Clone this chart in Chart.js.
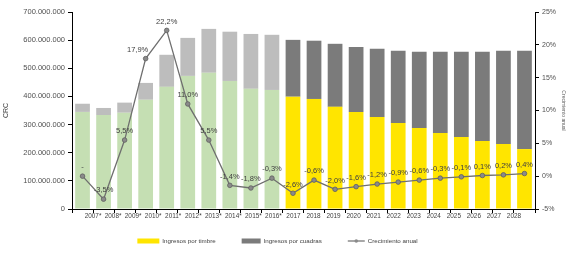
<!DOCTYPE html>
<html>
<head>
<meta charset="utf-8">
<script src="https://cdn.jsdelivr.net/npm/chart.js@4.4.0/dist/chart.umd.min.js"></script>
<style>
  html, body { margin: 0; padding: 0; background: #fff; }
  #wrap { width: 567px; height: 253px; }
</style>
</head>
<body>
<div id="wrap"><canvas id="chart"></canvas></div>
<script>
var years = ["2007*", "2008*", "2009*", "2010*", "2011*", "2012*", "2013*", "2014*", "2015*", "2016*",
             "2017", "2018", "2019", "2020", "2021", "2022", "2023", "2024", "2025", "2026", "2027", "2028"];
var timbre = [345000000, 334000000, 342000000, 388000000, 434000000, 473000000, 484000000, 455000000, 427000000, 423000000,
              399000000, 391000000, 363000000, 345000000, 327000000, 306000000, 288000000, 270000000, 256000000, 242000000, 231000000, 213000000];
var cuadras = [29000000, 25000000, 36000000, 60000000, 114000000, 135000000, 156000000, 175000000, 195000000, 196000000,
               202000000, 207000000, 224000000, 231000000, 242000000, 256000000, 271000000, 289000000, 303000000, 317000000, 331000000, 349000000];
var crecimiento = [0, -3.5, 5.5, 17.9, 22.2, 11.0, 5.5, -1.4, -1.8, -0.3, -2.6, -0.6, -2.0, -1.6, -1.2, -0.9, -0.6, -0.3, -0.1, 0.1, 0.2, 0.4];
var crecLabels = ["-", "-3,5%", "5,5%", "17,9%", "22,2%", "11,0%", "5,5%", "-1,4%", "-1,8%", "-0,3%",
                  "-2,6%", "-0,6%", "-2,0%", "-1,6%", "-1,2%", "-0,9%", "-0,6%", "-0,3%", "-0,1%", "0,1%", "0,2%", "0,4%"];

var font = "'Liberation Sans', Arial, sans-serif";

// historical years (with *) are drawn in green / light gray
var timbreColors = years.map(function(y) { return y.indexOf('*') > -1 ? '#c5dfb3' : '#ffe500'; });
var cuadrasColors = years.map(function(y) { return y.indexOf('*') > -1 ? '#bdbdbd' : '#7b7b7b'; });

var legendItems = [
    { text: 'Ingresos por timbre', color: '#ffe500', kind: 'box', w: 22 },
    { text: 'Ingresos por cuadras', color: '#7b7b7b', kind: 'box', w: 19 },
    { text: 'Crecimiento anual', color: '#6f6f6f', kind: 'line', w: 17 }
];

function miles(v) {
    return String(v).replace(/\B(?=(\d{3})+(?!\d))/g, '.');
}

var pointLabels = {
    id: 'pointLabels',
    afterDatasetsDraw: function(chart) {
        var meta = chart.getDatasetMeta(2);
        var ctx = chart.ctx;
        ctx.save();
        ctx.font = '7.5px ' + font;
        ctx.fillStyle = '#404040';
        ctx.textAlign = 'center';
        ctx.textBaseline = 'bottom';
        meta.data.forEach(function(pt, i) {
            var dx = i === 3 ? -8 : 0;
            ctx.fillText(crecLabels[i], pt.x + dx, pt.y - 5);
        });
        ctx.restore();
    }
};

var bottomLegend = {
    id: 'bottomLegend',
    afterDraw: function(chart) {
        var ctx = chart.ctx;
        ctx.save();
        ctx.font = '6.2px ' + font;
        var gap = 26;
        var total = 0;
        legendItems.forEach(function(it) { total += it.w + 3 + ctx.measureText(it.text).width; });
        total += gap * (legendItems.length - 1);
        var x = (chart.width - total) / 2 - 6;
        var y = chart.height - 12;
        legendItems.forEach(function(it) {
            if (it.kind === 'box') {
                ctx.fillStyle = it.color;
                ctx.fillRect(x, y - 2.5, it.w, 5);
            } else {
                ctx.strokeStyle = it.color;
                ctx.lineWidth = 1.2;
                ctx.beginPath();
                ctx.moveTo(x, y);
                ctx.lineTo(x + it.w, y);
                ctx.stroke();
                ctx.fillStyle = '#8a8a8a';
                ctx.beginPath();
                ctx.arc(x + it.w / 2, y, 1.8, 0, Math.PI * 2);
                ctx.fill();
            }
            x += it.w + 3;
            ctx.fillStyle = '#404040';
            ctx.textBaseline = 'middle';
            ctx.fillText(it.text, x, y);
            x += ctx.measureText(it.text).width + gap;
        });
        ctx.restore();
    }
};

var ctx = document.getElementById('chart').getContext('2d');
var chart = new Chart(ctx, {
    data: {
        labels: years,
        datasets: [{
            type: 'bar',
            label: 'Ingresos por timbre',
            data: timbre,
            backgroundColor: timbreColors,
            stack: 's',
            xAxisID: 'x',
            yAxisID: 'y',
            order: 1,
            categoryPercentage: 1,
            barPercentage: 0.7
        }, {
            type: 'bar',
            label: 'Ingresos por cuadras',
            data: cuadras,
            backgroundColor: cuadrasColors,
            stack: 's',
            xAxisID: 'x',
            yAxisID: 'y',
            order: 1,
            categoryPercentage: 1,
            barPercentage: 0.7
        }, {
            type: 'line',
            label: 'Crecimiento anual',
            data: crecimiento,
            xAxisID: 'x',
            yAxisID: 'y1',
            borderColor: '#6f6f6f',
            borderWidth: 1.3,
            pointRadius: 2.3,
            pointBackgroundColor: '#8a8a8a',
            pointBorderColor: '#5f5f5f',
            pointBorderWidth: 0.8,
            order: 0
        }]
    },
    options: {
        responsive: true,
        maintainAspectRatio: false,
        animation: false,
        layout: { padding: { top: 12, bottom: 28, left: 0, right: 0 } },
        plugins: {
            tooltip: { enabled: false },
            legend: { display: false }
        },
        scales: {
            x: {
                stacked: true,
                weight: 0,
                grid: { display: true, drawOnChartArea: false, tickLength: 4, color: '#000', offset: true },
                border: { color: '#000', width: 1 },
                ticks: { display: false },
                afterFit: function(s) { s.height = 3; }
            },
            // year labels: in the original they run from the 2nd to the 22nd category boundary
            xl: {
                type: 'linear',
                position: 'bottom',
                weight: 1,
                min: 0,
                max: years.length,
                grid: { display: false, drawTicks: false, tickLength: 0 },
                border: { display: false },
                afterBuildTicks: function(s) {
                    s.ticks = years.map(function(y, i) { return { value: 1 + i * (years.length - 2) / (years.length - 1) }; });
                },
                ticks: {
                    font: { family: font, size: 6.4 },
                    color: '#404040',
                    padding: 0,
                    maxRotation: 0,
                    autoSkip: false,
                    callback: function(v, i) { return years[i]; }
                },
                afterFit: function(s) { s.height = 13; }
            },
            y: {
                stacked: true,
                position: 'left',
                min: 0,
                max: 700000000,
                grid: { display: true, drawOnChartArea: false, tickLength: 4, color: '#000' },
                border: { color: '#000', width: 1 },
                ticks: {
                    stepSize: 100000000,
                    font: { family: font, size: 7.5 },
                    color: '#505050',
                    padding: 3,
                    callback: function(v) { return miles(v); }
                },
                title: { display: true, text: 'CRC', font: { family: font, size: 7 }, color: '#404040', padding: 2 },
                afterFit: function(s) { s.width = 72; }
            },
            y1: {
                position: 'right',
                min: -5,
                max: 25,
                grid: { display: true, drawOnChartArea: false, tickLength: 4, color: '#000' },
                border: { color: '#000', width: 1 },
                ticks: {
                    stepSize: 5,
                    font: { family: font, size: 7 },
                    color: '#505050',
                    padding: 3,
                    callback: function(v) { return v + '%'; }
                },
                title: { display: true, text: 'Crecimiento anual', font: { family: font, size: 5 }, color: '#606060', padding: 1 },
                afterFit: function(s) { s.width = 32; }
            }
        }
    },
    plugins: [pointLabels, bottomLegend]
});
</script>
</body>
</html>
